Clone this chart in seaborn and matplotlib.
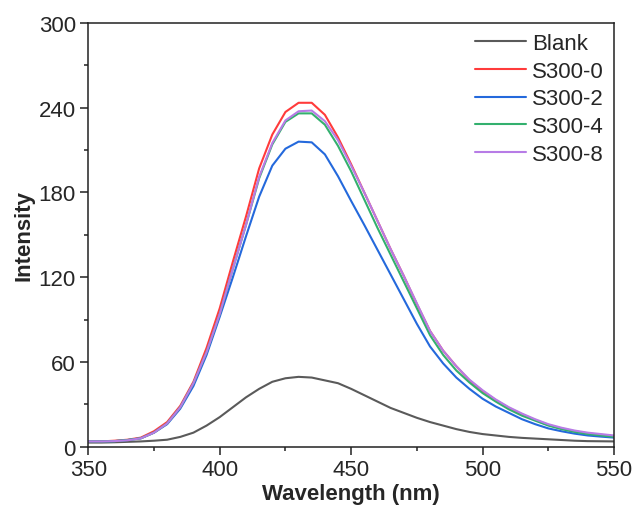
import numpy as np
import pandas as pd
import matplotlib
matplotlib.use("Agg")
import matplotlib.pyplot as plt
from matplotlib.ticker import MultipleLocator
import seaborn as sns

# wavelength grid (nm), every 5 nm
wavelength = list(range(350, 551, 5))

blank = [3.0, 3.0, 3.2, 3.5, 3.8, 4.3, 5.0, 7.0, 10.0, 15.0,
         21.0, 28.0, 35.0, 41.0, 46.0, 48.5, 49.5, 49.0, 47.0, 45.0,
         41.0, 36.5, 32.0, 27.5, 24.0, 20.5, 17.5, 15.0, 12.5, 10.5,
         9.0, 8.0, 7.0, 6.3, 5.8, 5.3, 4.8, 4.3, 4.0, 3.9, 3.8]

s300_0 = [3.8, 3.8, 4.3, 5.0, 6.5, 11.0, 17.5, 29.0, 46.0, 70.0,
          98.0, 131.0, 163.0, 197.0, 221.0, 237.0, 243.5, 243.5, 235.0, 219.0,
          200.0, 180.0, 160.0, 140.0, 121.0, 101.0, 82.0, 68.0, 57.0, 47.0,
          39.5, 33.0, 27.5, 23.0, 19.0, 15.5, 13.0, 11.0, 9.5, 8.5, 7.5]

s300_2 = [3.8, 3.8, 4.0, 4.8, 6.0, 10.0, 16.0, 27.0, 43.0, 65.0,
          92.0, 120.0, 149.0, 177.0, 199.0, 211.0, 216.0, 215.5, 207.0, 191.5,
          174.0, 157.0, 139.5, 122.0, 104.5, 87.0, 71.0, 59.0, 49.0, 41.0,
          34.0, 28.5, 24.0, 19.5, 16.0, 13.0, 11.0, 9.3, 8.0, 7.2, 6.5]

s300_4 = [3.8, 3.8, 4.0, 4.8, 6.0, 10.0, 16.5, 28.0, 45.0, 67.0,
          94.0, 126.0, 157.0, 190.0, 214.0, 230.0, 236.0, 236.0, 228.0, 213.0,
          195.0, 175.0, 155.0, 136.0, 117.0, 98.0, 79.0, 65.0, 54.0, 45.5,
          38.0, 32.0, 26.5, 22.0, 18.5, 15.0, 12.5, 10.5, 9.0, 8.0, 7.0]

s300_8 = [3.8, 3.8, 4.0, 4.6, 6.0, 10.0, 16.5, 28.0, 45.0, 67.0,
          94.0, 126.0, 157.0, 191.0, 215.0, 231.0, 237.5, 238.0, 230.5, 217.0,
          199.0, 180.0, 160.0, 140.0, 121.0, 101.5, 82.0, 68.0, 57.0, 47.5,
          40.0, 33.5, 28.0, 23.5, 19.5, 16.0, 13.5, 11.5, 10.0, 9.0, 8.0]

labels = ["Blank", "S300-0", "S300-2", "S300-4", "S300-8"]
colors = ["#5a5a5a", "#ff3b3b", "#2469dc", "#33b06e", "#b77ce6"]

# long format table for seaborn
series = [blank, s300_0, s300_2, s300_4, s300_8]
df = pd.concat(
    [pd.DataFrame({"wavelength": wavelength, "intensity": s, "sample": name})
     for name, s in zip(labels, series)],
    ignore_index=True,
)

sns.set_theme(style="ticks")
plt.rcParams["font.family"] = ["Liberation Sans", "DejaVu Sans"]

fig = plt.figure(figsize=(6.35, 5.1), dpi=100)
ax = fig.add_axes([0.139, 0.122, 0.828, 0.831])

sns.lineplot(data=df, x="wavelength", y="intensity", hue="sample",
             hue_order=labels, palette=dict(zip(labels, colors)),
             linewidth=1.5, ax=ax)

ax.set_xlim(350, 550)
ax.set_ylim(0, 300)
ax.xaxis.set_major_locator(MultipleLocator(50))
ax.xaxis.set_minor_locator(MultipleLocator(25))
ax.yaxis.set_major_locator(MultipleLocator(60))
ax.yaxis.set_minor_locator(MultipleLocator(30))

for side in ["top", "right", "bottom", "left"]:
    ax.spines[side].set_visible(True)
    ax.spines[side].set_linewidth(1.1)
    ax.spines[side].set_color("#222222")

ax.tick_params(which="major", direction="out", length=6, width=1.1,
               labelsize=16, color="#222222", pad=3)
ax.tick_params(which="minor", direction="out", length=3.2, width=1.1,
               color="#222222")

ax.set_xlabel("Wavelength (nm)", fontsize=16, fontweight="bold", labelpad=2)
ax.set_ylabel("Intensity", fontsize=16, fontweight="bold", labelpad=3)

leg = ax.legend(loc="upper right", frameon=False, fontsize=16,
                handlelength=2.3, handletextpad=0.3, labelspacing=0.3,
                borderaxespad=0.05)
for line in leg.get_lines():
    line.set_linewidth(1.5)

fig.savefig("out.png", dpi=100)
